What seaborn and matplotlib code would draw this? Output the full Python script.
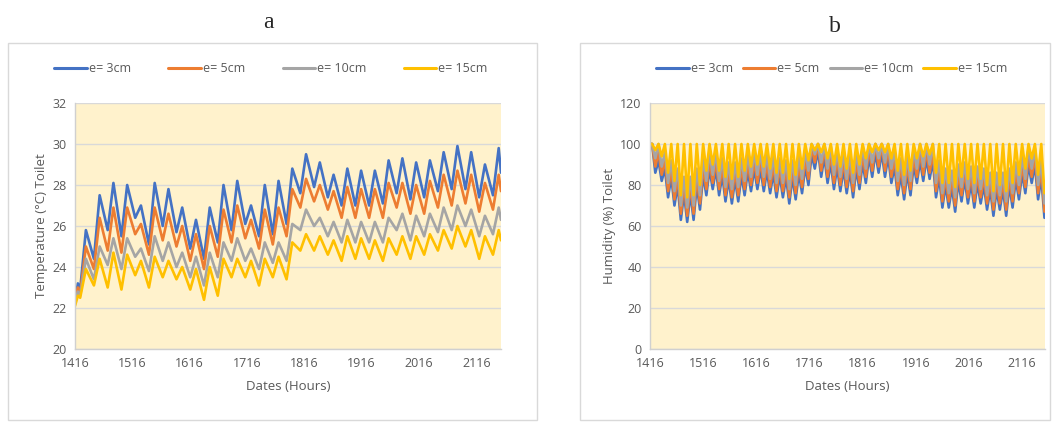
import numpy as np
import pandas as pd
import seaborn as sns
import matplotlib.pyplot as plt
from matplotlib.patches import Rectangle

# ---------------- data ----------------
series_names = ['e= 3cm', 'e= 5cm', 'e= 10cm', 'e= 15cm']
series_colors = ['#4472C4', '#ED7D31', '#A5A5A5', '#FFC000']

# panel a: temperature, start points then daily peak / trough values
temp_start_hours = [1416, 1421, 1425]
temp_peak_hours = 1435 + 24 * np.arange(31)
temp_end_hour = 2159

temp_start = {
    'e= 3cm': [22.3, 23.2, 22.9],
    'e= 5cm': [22.3, 23.0, 22.7],
    'e= 10cm': [22.2, 22.8, 22.6],
    'e= 15cm': [22.1, 22.6, 22.5],
}
temp_peaks = {
    'e= 3cm': [25.8, 27.5, 28.1, 28.0, 27.0, 28.1, 27.8, 26.9, 26.3, 26.9, 28.0, 28.2, 27.0, 28.0, 28.2, 28.8,
               29.5, 29.1, 28.5, 28.8, 28.7, 28.7, 29.2, 29.3, 29.1, 29.2, 29.6, 29.9, 29.6, 29.0, 29.8],
    'e= 5cm': [25.0, 26.4, 26.9, 26.9, 26.1, 26.9, 26.6, 26.0, 25.6, 26.0, 26.8, 27.0, 26.3, 26.8, 26.9, 27.8,
               28.3, 28.0, 27.7, 27.9, 27.8, 27.8, 28.1, 28.1, 28.0, 28.2, 28.5, 28.7, 28.5, 28.1, 28.5],
    'e= 10cm': [24.4, 25.0, 25.4, 25.4, 24.9, 25.5, 25.2, 24.7, 24.5, 24.7, 25.2, 25.4, 24.9, 25.2, 25.2, 26.1,
                26.8, 26.4, 26.2, 26.3, 26.2, 26.2, 26.4, 26.6, 26.5, 26.6, 26.9, 27.0, 26.8, 26.5, 26.9],
    'e= 15cm': [23.9, 24.4, 24.7, 24.6, 24.3, 24.5, 24.3, 24.0, 23.9, 24.0, 24.4, 24.4, 24.3, 24.4, 24.5, 25.2,
                25.6, 25.5, 25.3, 25.5, 25.4, 25.3, 25.4, 25.5, 25.5, 25.6, 25.8, 26.0, 25.8, 25.5, 25.8],
}
temp_troughs = {
    'e= 3cm': [24.4, 25.8, 25.5, 26.4, 25.1, 26.0, 25.7, 24.9, 24.4, 25.2, 25.8, 26.1, 25.5, 25.6, 26.1,
               27.6, 27.9, 27.4, 27.0, 27.0, 27.0, 27.1, 27.6, 27.3, 27.4, 27.7, 27.8, 27.8, 27.4, 27.5],
    'e= 5cm': [23.9, 24.8, 24.7, 25.6, 24.6, 25.3, 25.0, 24.3, 23.9, 24.5, 25.2, 25.4, 24.9, 25.1, 25.5,
               26.9, 27.2, 26.8, 26.4, 26.4, 26.4, 26.4, 26.9, 26.6, 26.6, 26.9, 27.0, 27.1, 26.7, 26.8],
    'e= 10cm': [23.4, 24.1, 23.9, 24.5, 23.8, 24.3, 24.0, 23.5, 23.1, 23.5, 24.3, 24.3, 23.9, 24.2, 24.3,
                25.8, 26.0, 25.5, 25.2, 25.2, 25.2, 25.2, 25.8, 25.3, 25.5, 25.7, 25.8, 26.0, 25.5, 25.6],
    'e= 15cm': [23.1, 23.0, 22.9, 23.6, 23.0, 23.5, 23.4, 22.9, 22.4, 22.6, 23.5, 23.5, 23.1, 23.5, 23.4,
                24.8, 24.8, 24.6, 24.3, 24.4, 24.4, 24.3, 24.6, 24.4, 24.6, 24.8, 24.9, 25.0, 24.4, 24.6],
}
temp_end = {'e= 3cm': 28.6, 'e= 5cm': 27.7, 'e= 10cm': 26.3, 'e= 15cm': 25.3}

# panel b: humidity, peaks / troughs every 12 hours
hum_peak_hours = 1420 + 12 * np.arange(62)
hum_trough_hours = 1426 + 12 * np.arange(62)
hum_start_hour = 1416

hum_peaks = {
    'e= 3cm': [100, 92, 88, 84, 80, 76, 76, 80, 85, 88, 88, 85, 83, 83, 85, 87, 88, 88, 87, 86, 85, 84, 84, 86,
               89, 95, 97, 94, 91, 89, 88, 87, 88, 91, 94, 96, 96, 94, 89, 85, 86, 90, 92, 93, 92, 84, 80, 79,
               82, 83, 81, 81, 80, 78, 78, 78, 80, 83, 86, 90, 90, 84],
    'e= 5cm': [100, 96, 92, 88, 84, 80, 80, 84, 89, 92, 92, 89, 87, 87, 89, 91, 92, 92, 91, 90, 89, 88, 88, 90,
               93, 99, 100, 98, 95, 93, 92, 91, 92, 95, 98, 100, 100, 98, 93, 89, 90, 94, 96, 97, 96, 88, 84, 83,
               86, 87, 85, 85, 84, 82, 82, 82, 84, 87, 90, 94, 94, 88],
    'e= 10cm': [100, 100, 96, 92, 88, 84, 84, 88, 93, 96, 96, 93, 91, 91, 93, 95, 96, 96, 95, 94, 93, 92, 92, 94,
                97, 100, 100, 100, 99, 97, 96, 95, 96, 99, 100, 100, 100, 100, 97, 93, 94, 98, 100, 100, 100, 92,
                88, 87, 90, 91, 89, 89, 88, 86, 86, 86, 88, 91, 94, 98, 98, 92],
    'e= 15cm': [100, 100, 100, 100, 100, 100, 100, 100, 100, 100, 100, 100, 100, 100, 100, 100, 100, 100, 100,
                100, 100, 100, 100, 100, 100, 100, 100, 100, 100, 100, 100, 100, 100, 100, 100, 100, 100, 100,
                100, 100, 100, 100, 100, 100, 100, 100, 100, 100, 100, 100, 100, 100, 100, 100, 100, 100, 100,
                100, 100, 100, 100, 100],
}
hum_troughs = {
    'e= 3cm': [86, 82, 74, 70, 63, 62, 63, 68, 75, 78, 75, 72, 71, 72, 75, 77, 78, 77, 76, 74, 74, 71, 73, 76,
               80, 88, 84, 81, 78, 77, 76, 74, 78, 81, 84, 86, 84, 81, 75, 73, 75, 81, 82, 83, 74, 69, 69, 67,
               72, 71, 69, 71, 68, 65, 68, 65, 69, 73, 76, 81, 73, 64],
    'e= 5cm': [89, 85, 77, 73, 66, 65, 66, 71, 78, 81, 78, 75, 74, 75, 78, 80, 81, 80, 79, 77, 77, 74, 76, 79,
               83, 91, 87, 84, 81, 80, 79, 77, 81, 84, 87, 89, 87, 84, 78, 76, 78, 84, 85, 86, 77, 72, 72, 70,
               75, 74, 72, 74, 71, 68, 71, 68, 72, 76, 79, 84, 76, 67],
    'e= 10cm': [93, 89, 81, 77, 70, 69, 70, 75, 82, 85, 82, 79, 78, 79, 82, 84, 85, 84, 83, 81, 81, 78, 80, 83,
                87, 95, 91, 88, 85, 84, 83, 81, 85, 88, 91, 93, 91, 88, 82, 80, 82, 88, 89, 90, 81, 76, 76, 74,
                79, 78, 76, 78, 75, 72, 75, 72, 76, 80, 83, 88, 80, 71],
    'e= 15cm': [97, 94, 86, 82, 75, 74, 75, 80, 87, 90, 87, 84, 83, 84, 87, 89, 90, 89, 88, 86, 86, 83, 85, 88,
                92, 97, 96, 93, 90, 89, 88, 86, 90, 93, 96, 97, 96, 93, 87, 85, 87, 93, 94, 95, 86, 81, 81, 79,
                84, 83, 81, 83, 80, 77, 80, 77, 81, 85, 88, 93, 85, 76],
}


# ---------------- build long tables ----------------
rows_a = []
for name in series_names:
    hrs = list(temp_start_hours)
    vals = list(temp_start[name])
    for i, ph in enumerate(temp_peak_hours):
        hrs.append(ph)
        vals.append(temp_peaks[name][i])
        if i < len(temp_troughs[name]):
            hrs.append(ph + 14)
            vals.append(temp_troughs[name][i])
    hrs.append(temp_end_hour)
    vals.append(temp_end[name])
    for h, v in zip(hrs, vals):
        rows_a.append((name, h, v))
df_a = pd.DataFrame(rows_a, columns=['series', 'hour', 'value'])

rows_b = []
for name in series_names:
    rows_b.append((name, hum_start_hour, 100))
    for i in range(len(hum_peak_hours)):
        rows_b.append((name, hum_peak_hours[i], hum_peaks[name][i]))
        rows_b.append((name, hum_trough_hours[i], hum_troughs[name][i]))
df_b = pd.DataFrame(rows_b, columns=['series', 'hour', 'value'])

# ---------------- plotting ----------------
sns.set_theme(style='white')
plt.rcParams['font.family'] = ['Open Sans', 'DejaVu Sans']
text_gray = '#595959'
palette = dict(zip(series_names, series_colors))

fig = plt.figure(figsize=(10.55, 4.24), dpi=100)

# chart-area frames
for x0, x1 in [(8, 537), (580, 1050)]:
    fig.patches.append(Rectangle((x0 / 1055, 1 - 420 / 424), (x1 - x0) / 1055, (420 - 43) / 424,
                                 transform=fig.transFigure, fill=False, edgecolor='#D9D9D9', linewidth=1))

ax_a = fig.add_axes([75 / 1055, 1 - 349 / 424, 426 / 1055, 246 / 424])
ax_b = fig.add_axes([650 / 1055, 1 - 349 / 424, 395 / 1055, 246 / 424])

panels = [
    (ax_a, df_a, (20, 32), np.arange(20, 33, 2), 'Temperature (°C) Toilet'),
    (ax_b, df_b, (0, 120), np.arange(0, 121, 20), 'Humidity (%) Toilet'),
]
for ax, df, ylim, yticks, ylabel in panels:
    ax.set_facecolor('#FFF2CC')
    sns.lineplot(data=df, x='hour', y='value', hue='series', palette=palette, sort=False,
                 estimator=None, linewidth=1.9, ax=ax)
    ax.set_xlim(1416, 2159)
    ax.set_ylim(*ylim)
    ax.set_xticks(np.arange(1416, 2160, 100))
    ax.set_yticks(yticks)
    ax.grid(axis='y', color='#D9D9D9', linewidth=1)
    ax.set_axisbelow(True)
    for side in ['top', 'right']:
        ax.spines[side].set_visible(False)
    for side in ['left', 'bottom']:
        ax.spines[side].set_color('#D0D0D0')
        ax.spines[side].set_linewidth(1)
    ax.tick_params(axis='both', length=0, labelsize=9, colors=text_gray, pad=6)
    ax.set_xlabel('Dates (Hours)', fontsize=9.5, color=text_gray, labelpad=7)
    ax.set_ylabel(ylabel, fontsize=9.5, color=text_gray, labelpad=3)

sns.move_legend(ax_a, 'center left', bbox_to_anchor=(-0.075, 1.14, 1.07, 0.0), mode='expand', ncol=4,
                frameon=False, title=None, fontsize=9, handlelength=2.6, handletextpad=0.15)
sns.move_legend(ax_b, 'center', bbox_to_anchor=(0.46, 1.14), ncol=4, frameon=False, title=None,
                fontsize=9, handlelength=2.6, handletextpad=0.15, columnspacing=0.8)
for ax in (ax_a, ax_b):
    for t in ax.get_legend().get_texts():
        t.set_color(text_gray)
    for ln in ax.get_legend().get_lines():
        ln.set_linewidth(2.2)

fig.text(268 / 1055, 1 - 22 / 424, 'a', ha='center', va='center', fontsize=17, family='Liberation Serif')
fig.text(835 / 1055, 1 - 26 / 424, 'b', ha='center', va='center', fontsize=17, family='Liberation Serif')

fig.savefig('out.png', dpi=100)
